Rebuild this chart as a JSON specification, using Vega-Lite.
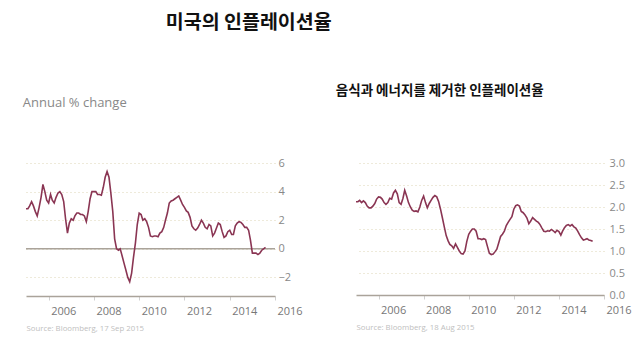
{
"$schema": "https://vega.github.io/schema/vega-lite/v6.json",
"background": "white",
"padding": {"left": 22, "top": 13, "right": 5, "bottom": 5},
"title": {"text": "미국의 인플레이션율", "anchor": "start", "dx": 143, "fontSize": 19.5, "font": "Noto Sans CJK KR", "fontWeight": "bold", "color": "#111", "offset": 50},
"config": {"view": {"stroke": null}, "font": "Open Sans"},
"bounds": "flush",
"spacing": 81,
"datasets": {
"cpi": [
{"d":"2005-01-01","v":2.8},{"d":"2005-02-01","v":2.8},{"d":"2005-03-01","v":3.0},{"d":"2005-04-01","v":3.3},{"d":"2005-05-01","v":3.0},{"d":"2005-06-01","v":2.6},{"d":"2005-07-01","v":2.3},{"d":"2005-08-01","v":2.9},{"d":"2005-09-01","v":3.6},{"d":"2005-10-01","v":4.5},{"d":"2005-11-01","v":4.0},{"d":"2005-12-01","v":3.4},
{"d":"2006-01-01","v":3.2},{"d":"2006-02-01","v":3.8},{"d":"2006-03-01","v":3.4},{"d":"2006-04-01","v":3.2},{"d":"2006-05-01","v":3.6},{"d":"2006-06-01","v":3.9},{"d":"2006-07-01","v":4.0},{"d":"2006-08-01","v":3.8},{"d":"2006-09-01","v":3.3},{"d":"2006-10-01","v":2.1},{"d":"2006-11-01","v":1.1},{"d":"2006-12-01","v":1.8},
{"d":"2007-01-01","v":2.1},{"d":"2007-02-01","v":2.0},{"d":"2007-03-01","v":2.3},{"d":"2007-04-01","v":2.5},{"d":"2007-05-01","v":2.5},{"d":"2007-06-01","v":2.4},{"d":"2007-07-01","v":2.4},{"d":"2007-08-01","v":2.3},{"d":"2007-09-01","v":1.9},{"d":"2007-10-01","v":2.6},{"d":"2007-11-01","v":3.5},{"d":"2007-12-01","v":4.0},
{"d":"2008-01-01","v":4.0},{"d":"2008-02-01","v":4.0},{"d":"2008-03-01","v":3.8},{"d":"2008-04-01","v":3.8},{"d":"2008-05-01","v":3.75},{"d":"2008-06-01","v":4.3},{"d":"2008-07-01","v":5.0},{"d":"2008-08-01","v":5.4},{"d":"2008-09-01","v":5.0},{"d":"2008-10-01","v":3.9},{"d":"2008-11-01","v":2.6},{"d":"2008-12-01","v":0.7},
{"d":"2009-01-01","v":0.0},{"d":"2009-02-01","v":-0.1},{"d":"2009-03-01","v":0.0},{"d":"2009-04-01","v":-0.5},{"d":"2009-05-01","v":-1.0},{"d":"2009-06-01","v":-1.5},{"d":"2009-07-01","v":-2.0},{"d":"2009-08-01","v":-2.3},{"d":"2009-09-01","v":-1.7},{"d":"2009-10-01","v":-0.6},{"d":"2009-11-01","v":0.4},{"d":"2009-12-01","v":1.7},
{"d":"2010-01-01","v":2.5},{"d":"2010-02-01","v":2.4},{"d":"2010-03-01","v":2.0},{"d":"2010-04-01","v":2.1},{"d":"2010-05-01","v":1.9},{"d":"2010-06-01","v":1.5},{"d":"2010-07-01","v":0.9},{"d":"2010-08-01","v":0.85},{"d":"2010-09-01","v":0.9},{"d":"2010-10-01","v":0.9},{"d":"2010-11-01","v":0.85},{"d":"2010-12-01","v":1.1},
{"d":"2011-01-01","v":1.2},{"d":"2011-02-01","v":1.5},{"d":"2011-03-01","v":2.0},{"d":"2011-04-01","v":2.5},{"d":"2011-05-01","v":3.2},{"d":"2011-06-01","v":3.35},{"d":"2011-07-01","v":3.4},{"d":"2011-08-01","v":3.5},{"d":"2011-09-01","v":3.6},{"d":"2011-10-01","v":3.7},{"d":"2011-11-01","v":3.4},{"d":"2011-12-01","v":3.1},
{"d":"2012-01-01","v":2.9},{"d":"2012-02-01","v":2.65},{"d":"2012-03-01","v":2.55},{"d":"2012-04-01","v":2.2},{"d":"2012-05-01","v":1.6},{"d":"2012-06-01","v":1.4},{"d":"2012-07-01","v":1.3},{"d":"2012-08-01","v":1.45},{"d":"2012-09-01","v":1.7},{"d":"2012-10-01","v":2.0},{"d":"2012-11-01","v":1.8},{"d":"2012-12-01","v":1.5},
{"d":"2013-01-01","v":1.4},{"d":"2013-02-01","v":1.7},{"d":"2013-03-01","v":1.6},{"d":"2013-04-01","v":0.9},{"d":"2013-05-01","v":1.1},{"d":"2013-06-01","v":1.45},{"d":"2013-07-01","v":1.8},{"d":"2013-08-01","v":1.7},{"d":"2013-09-01","v":1.2},{"d":"2013-10-01","v":0.8},{"d":"2013-11-01","v":0.9},{"d":"2013-12-01","v":1.2},
{"d":"2014-01-01","v":1.3},{"d":"2014-02-01","v":1.0},{"d":"2014-03-01","v":1.0},{"d":"2014-04-01","v":1.6},{"d":"2014-05-01","v":1.8},{"d":"2014-06-01","v":1.9},{"d":"2014-07-01","v":1.85},{"d":"2014-08-01","v":1.7},{"d":"2014-09-01","v":1.5},{"d":"2014-10-01","v":1.5},{"d":"2014-11-01","v":1.3},{"d":"2014-12-01","v":0.6},
{"d":"2015-01-01","v":-0.3},{"d":"2015-02-01","v":-0.3},{"d":"2015-03-01","v":-0.3},{"d":"2015-04-01","v":-0.4},{"d":"2015-05-01","v":-0.3},{"d":"2015-06-01","v":-0.1},{"d":"2015-07-01","v":0.0},{"d":"2015-08-01","v":0.1}
],
"core": [
{"d":"2005-01-01","v":2.12},{"d":"2005-02-01","v":2.12},{"d":"2005-03-01","v":2.15},{"d":"2005-04-01","v":2.10},{"d":"2005-05-01","v":2.14},{"d":"2005-06-01","v":2.10},{"d":"2005-07-01","v":2.02},{"d":"2005-08-01","v":1.98},{"d":"2005-09-01","v":1.98},{"d":"2005-10-01","v":2.02},{"d":"2005-11-01","v":2.08},{"d":"2005-12-01","v":2.18},
{"d":"2006-01-01","v":2.23},{"d":"2006-02-01","v":2.22},{"d":"2006-03-01","v":2.18},{"d":"2006-04-01","v":2.10},{"d":"2006-05-01","v":2.06},{"d":"2006-06-01","v":2.10},{"d":"2006-07-01","v":2.20},{"d":"2006-08-01","v":2.18},{"d":"2006-09-01","v":2.32},{"d":"2006-10-01","v":2.38},{"d":"2006-11-01","v":2.30},{"d":"2006-12-01","v":2.10},
{"d":"2007-01-01","v":2.06},{"d":"2007-02-01","v":2.20},{"d":"2007-03-01","v":2.38},{"d":"2007-04-01","v":2.25},{"d":"2007-05-01","v":2.10},{"d":"2007-06-01","v":2.00},{"d":"2007-07-01","v":1.93},{"d":"2007-08-01","v":1.90},{"d":"2007-09-01","v":1.91},{"d":"2007-10-01","v":1.89},{"d":"2007-11-01","v":2.00},{"d":"2007-12-01","v":2.15},
{"d":"2008-01-01","v":2.25},{"d":"2008-02-01","v":2.10},{"d":"2008-03-01","v":1.98},{"d":"2008-04-01","v":2.08},{"d":"2008-05-01","v":2.15},{"d":"2008-06-01","v":2.22},{"d":"2008-07-01","v":2.26},{"d":"2008-08-01","v":2.23},{"d":"2008-09-01","v":2.12},{"d":"2008-10-01","v":1.95},{"d":"2008-11-01","v":1.75},{"d":"2008-12-01","v":1.55},
{"d":"2009-01-01","v":1.35},{"d":"2009-02-01","v":1.23},{"d":"2009-03-01","v":1.15},{"d":"2009-04-01","v":1.12},{"d":"2009-05-01","v":1.06},{"d":"2009-06-01","v":1.16},{"d":"2009-07-01","v":1.08},{"d":"2009-08-01","v":1.00},{"d":"2009-09-01","v":0.94},{"d":"2009-10-01","v":0.93},{"d":"2009-11-01","v":1.00},{"d":"2009-12-01","v":1.22},
{"d":"2010-01-01","v":1.38},{"d":"2010-02-01","v":1.45},{"d":"2010-03-01","v":1.50},{"d":"2010-04-01","v":1.50},{"d":"2010-05-01","v":1.45},{"d":"2010-06-01","v":1.28},{"d":"2010-07-01","v":1.28},{"d":"2010-08-01","v":1.26},{"d":"2010-09-01","v":1.28},{"d":"2010-10-01","v":1.26},{"d":"2010-11-01","v":1.10},{"d":"2010-12-01","v":0.95},
{"d":"2011-01-01","v":0.92},{"d":"2011-02-01","v":0.93},{"d":"2011-03-01","v":0.98},{"d":"2011-04-01","v":1.04},{"d":"2011-05-01","v":1.18},{"d":"2011-06-01","v":1.33},{"d":"2011-07-01","v":1.38},{"d":"2011-08-01","v":1.45},{"d":"2011-09-01","v":1.58},{"d":"2011-10-01","v":1.65},{"d":"2011-11-01","v":1.72},{"d":"2011-12-01","v":1.78},
{"d":"2012-01-01","v":1.95},{"d":"2012-02-01","v":2.03},{"d":"2012-03-01","v":2.05},{"d":"2012-04-01","v":2.02},{"d":"2012-05-01","v":1.90},{"d":"2012-06-01","v":1.87},{"d":"2012-07-01","v":1.82},{"d":"2012-08-01","v":1.75},{"d":"2012-09-01","v":1.62},{"d":"2012-10-01","v":1.68},{"d":"2012-11-01","v":1.76},{"d":"2012-12-01","v":1.72},
{"d":"2013-01-01","v":1.68},{"d":"2013-02-01","v":1.65},{"d":"2013-03-01","v":1.60},{"d":"2013-04-01","v":1.52},{"d":"2013-05-01","v":1.45},{"d":"2013-06-01","v":1.44},{"d":"2013-07-01","v":1.46},{"d":"2013-08-01","v":1.45},{"d":"2013-09-01","v":1.49},{"d":"2013-10-01","v":1.46},{"d":"2013-11-01","v":1.42},{"d":"2013-12-01","v":1.47},
{"d":"2014-01-01","v":1.44},{"d":"2014-02-01","v":1.36},{"d":"2014-03-01","v":1.45},{"d":"2014-04-01","v":1.53},{"d":"2014-05-01","v":1.58},{"d":"2014-06-01","v":1.60},{"d":"2014-07-01","v":1.57},{"d":"2014-08-01","v":1.60},{"d":"2014-09-01","v":1.55},{"d":"2014-10-01","v":1.52},{"d":"2014-11-01","v":1.45},{"d":"2014-12-01","v":1.37},
{"d":"2015-01-01","v":1.30},{"d":"2015-02-01","v":1.25},{"d":"2015-03-01","v":1.26},{"d":"2015-04-01","v":1.28},{"d":"2015-05-01","v":1.25},{"d":"2015-06-01","v":1.24},{"d":"2015-07-01","v":1.22}
]
},
"hconcat": [
{
"width": 249, "height": 133,
"title": {"text": "Annual % change", "anchor": "start", "fontSize": 13, "fontWeight": "normal", "color": "#888888", "font": "Open Sans", "offset": 47},
"layer": [
{"data": {"values": [{"v": 0}]}, "mark": {"type": "rule", "color": "#aaa39a", "strokeWidth": 1.5},
"encoding": {"y": {"field": "v", "type": "quantitative",
"scale": {"domain": [-3.3, 6], "nice": false, "zero": false},
"axis": {"orient": "right", "values": [-2, 0, 2, 4, 6], "labelOverlap": false, "domain": false, "ticks": false, "labelPadding": 3, "labelFontSize": 11, "labelColor": "#888888", "labelFont": "Open Sans", "title": null,
"grid": true, "gridDash": [1, 3], "gridColor": "#ddd5b5", "gridWidth": 1}}}},
{"data": {"name": "cpi"}, "mark": {"type": "line", "color": "#8a3553", "strokeWidth": 1.6},
"encoding": {
"x": {"field": "d", "type": "temporal",
"scale": {"type": "utc", "domain": [{"year": 2005, "month": 1, "date": 1, "utc": true}, {"year": 2016, "month": 1, "date": 1, "utc": true}]},
"axis": {"values": [{"year": 2006, "month": 1, "date": 1, "utc": true}, {"year": 2008, "month": 1, "date": 1, "utc": true}, {"year": 2010, "month": 1, "date": 1, "utc": true}, {"year": 2012, "month": 1, "date": 1, "utc": true}, {"year": 2014, "month": 1, "date": 1, "utc": true}, {"year": 2016, "month": 1, "date": 1, "utc": true}],
"format": "%Y", "formatType": "utc", "grid": false, "labelAlign": "left", "labelOffset": 2, "labelPadding": 5, "labelFontSize": 11, "labelColor": "#777777", "labelFont": "Open Sans", "labelOverlap": false,
"tickSize": 4, "tickColor": "#d0d0d0", "domainColor": "#aaa39a", "domainWidth": 1.5,
"title": "Source: Bloomberg, 17 Sep 2015", "titleAnchor": "start", "titleAlign": "left", "titleFontSize": 7.8, "titleFontWeight": "normal", "titleColor": "#c0c0c0", "titleFont": "Open Sans", "titlePadding": 8}},
"y": {"field": "v", "type": "quantitative",
"scale": {"domain": [-3.3, 6], "nice": false, "zero": false},
"axis": {"orient": "right", "values": [-2, 0, 2, 4, 6], "labelOverlap": false, "domain": false, "ticks": false, "labelPadding": 3, "labelFontSize": 11, "labelColor": "#888888", "labelFont": "Open Sans", "title": null,
"grid": true, "gridDash": [1, 3], "gridColor": "#ddd5b5", "gridWidth": 1}}
}}
]
},
{
"width": 248, "height": 132,
"title": {"text": "음식과 에너지를 제거한 인플레이션율", "anchor": "start", "dx": -17, "fontSize": 13.5, "fontWeight": "bold", "color": "#111", "font": "Noto Sans CJK KR", "offset": 60},
"data": {"name": "core"},
"mark": {"type": "line", "color": "#8a3553", "strokeWidth": 1.6},
"encoding": {
"x": {"field": "d", "type": "temporal",
"scale": {"type": "utc", "domain": [{"year": 2005, "month": 1, "date": 1, "utc": true}, {"year": 2016, "month": 1, "date": 1, "utc": true}]},
"axis": {"values": [{"year": 2006, "month": 1, "date": 1, "utc": true}, {"year": 2008, "month": 1, "date": 1, "utc": true}, {"year": 2010, "month": 1, "date": 1, "utc": true}, {"year": 2012, "month": 1, "date": 1, "utc": true}, {"year": 2014, "month": 1, "date": 1, "utc": true}, {"year": 2016, "month": 1, "date": 1, "utc": true}],
"format": "%Y", "formatType": "utc", "grid": false, "labelAlign": "left", "labelOffset": 2, "labelPadding": 5, "labelFontSize": 11, "labelColor": "#777777", "labelFont": "Open Sans", "labelOverlap": false,
"tickSize": 4, "tickColor": "#d0d0d0", "domainColor": "#aaa39a", "domainWidth": 1.5,
"title": "Source: Bloomberg, 18 Aug 2015", "titleAnchor": "start", "titleAlign": "left", "titleFontSize": 7.8, "titleFontWeight": "normal", "titleColor": "#c0c0c0", "titleFont": "Open Sans", "titlePadding": 8}},
"y": {"field": "v", "type": "quantitative",
"scale": {"domain": [0, 3], "nice": false, "zero": false},
"axis": {"orient": "right", "values": [0, 0.5, 1, 1.5, 2, 2.5, 3], "format": ".1f", "labelOverlap": false, "domain": false, "ticks": false, "labelPadding": 5, "labelFontSize": 11, "labelColor": "#888888", "labelFont": "Open Sans", "title": null,
"grid": true, "gridDash": [1, 3], "gridColor": "#ddd5b5", "gridWidth": 1}}
}
}
]
}
